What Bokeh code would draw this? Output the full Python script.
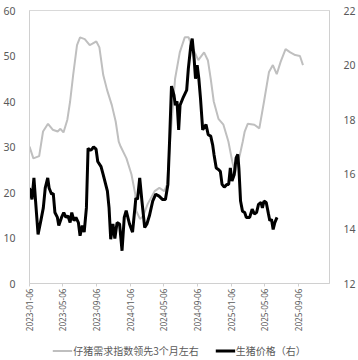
import math
import pandas as pd
from bokeh.plotting import figure
from bokeh.layouts import column
from bokeh.models import (ColumnDataSource, Range1d, LinearAxis, FixedTicker,
                          DatetimeTickFormatter, Legend, LegendItem)
from bokeh.embed import file_html
from bokeh.resources import INLINE

# ---- data ----
piglet_dates = [
    "2023-01-06", "2023-01-20", "2023-02-10", "2023-02-24", "2023-03-14", "2023-03-31",
    "2023-04-18", "2023-04-28", "2023-05-09", "2023-05-23", "2023-06-02", "2023-06-13",
    "2023-06-27", "2023-07-08", "2023-07-25", "2023-08-12", "2023-08-22", "2023-09-05",
    "2023-09-16", "2023-09-30", "2023-10-14", "2023-10-31", "2023-11-14", "2023-11-25",
    "2023-12-02", "2023-12-23", "2024-01-10", "2024-01-24", "2024-01-27", "2024-02-10",
    "2024-02-21", "2024-03-09", "2024-04-03", "2024-04-20", "2024-05-08", "2024-05-18",
    "2024-05-29", "2024-06-16", "2024-07-03", "2024-07-21", "2024-08-04", "2024-08-14",
    "2024-09-08", "2024-09-29", "2024-10-13", "2024-10-23", "2024-11-03", "2024-11-20",
    "2024-12-08", "2024-12-26", "2025-01-09", "2025-01-19", "2025-02-06", "2025-02-16",
    "2025-02-23", "2025-03-06", "2025-03-30", "2025-04-17", "2025-05-04", "2025-05-22",
    "2025-06-05", "2025-06-19", "2025-07-03", "2025-07-21", "2025-08-07", "2025-08-25",
    "2025-09-11", "2025-09-22",
]
piglet_index = [
    30.1, 27.5, 28.0, 33.4, 35.1, 33.8,
    33.4, 34.0, 33.2, 36.0, 40.0, 45.8,
    52.4, 54.1, 53.7, 52.4, 52.7, 53.2,
    51.9, 45.8, 42.5, 39.2, 35.6, 31.2,
    30.1, 27.5, 24.0, 19.6, 16.0, 14.2,
    14.8, 17.5, 20.3, 21.0, 20.3, 21.8,
    31.2, 45.0, 50.8, 54.1, 54.1, 52.4,
    49.1, 50.8, 49.0, 45.0, 40.0, 36.2,
    34.9, 31.2, 26.8, 24.2, 28.4, 31.2,
    33.4, 35.1, 34.9, 34.1, 40.0, 46.5,
    48.0, 46.0, 48.7, 51.5, 50.8, 50.2,
    50.0, 48.0,
]

hog_dates = [
    "2023-01-06", "2023-01-15", "2023-01-22", "2023-01-28", "2023-02-06", "2023-02-17",
    "2023-02-25", "2023-03-04", "2023-03-13", "2023-03-18", "2023-03-27", "2023-04-02",
    "2023-04-08", "2023-04-17", "2023-04-22", "2023-05-02", "2023-05-10", "2023-05-18",
    "2023-05-25", "2023-06-02", "2023-06-08", "2023-06-16", "2023-06-23", "2023-07-02",
    "2023-07-08", "2023-07-16", "2023-07-23", "2023-07-31", "2023-08-06", "2023-08-14",
    "2023-08-20", "2023-08-26", "2023-09-04", "2023-09-10", "2023-09-22", "2023-09-30",
    "2023-10-09", "2023-10-15", "2023-10-21", "2023-10-27", "2023-11-04", "2023-11-11",
    "2023-11-19", "2023-11-28", "2023-12-07", "2023-12-15", "2023-12-22", "2024-01-03",
    "2024-01-14", "2024-01-26", "2024-02-01", "2024-02-09", "2024-02-17", "2024-02-27",
    "2024-03-06", "2024-03-15", "2024-03-27", "2024-04-07", "2024-04-19", "2024-05-01",
    "2024-05-12", "2024-05-21", "2024-05-27", "2024-06-03", "2024-06-12", "2024-06-17",
    "2024-06-23", "2024-06-29", "2024-07-04", "2024-07-16", "2024-07-28", "2024-08-03",
    "2024-08-12", "2024-08-17", "2024-08-24", "2024-08-29", "2024-09-04", "2024-09-10",
    "2024-09-16", "2024-09-24", "2024-10-06", "2024-10-14", "2024-10-23", "2024-10-30",
    "2024-11-04", "2024-11-12", "2024-11-21", "2024-11-27", "2024-12-03", "2024-12-11",
    "2024-12-21", "2024-12-27", "2025-01-02", "2025-01-08", "2025-01-16", "2025-01-23",
    "2025-01-29", "2025-02-02", "2025-02-08", "2025-02-15", "2025-02-23", "2025-03-01",
    "2025-03-13", "2025-03-22", "2025-03-30", "2025-04-07", "2025-04-14", "2025-04-23",
    "2025-04-28", "2025-05-04", "2025-05-12", "2025-05-20", "2025-05-25", "2025-05-31",
    "2025-06-06", "2025-06-12", "2025-06-20",
]
hog_price = [
    15.50, 15.08, 15.87, 15.02, 13.80, 14.35,
    14.77, 15.50, 15.87, 15.50, 15.27, 15.30,
    14.60, 14.42, 14.12, 14.42, 14.60, 14.42,
    14.48, 14.23, 14.60, 14.30, 14.42, 14.23,
    13.75, 14.12, 13.88, 14.77, 16.95, 16.88,
    16.92, 17.00, 16.92, 16.47, 16.28, 15.98,
    15.62, 15.38, 14.77, 13.62, 14.18, 13.65,
    14.23, 14.18, 13.20, 14.42, 14.67, 14.18,
    13.88, 15.13, 15.08, 15.87, 15.02, 14.05,
    14.18, 14.48, 15.02, 15.27, 15.20, 15.08,
    15.08, 15.63, 17.20, 19.23, 18.90, 18.53,
    18.67, 17.63, 18.53, 18.83, 19.08, 19.87,
    20.72, 20.97, 20.23, 19.50, 20.00, 19.50,
    18.78, 17.63, 17.82, 17.45, 17.40, 17.08,
    16.72, 16.23, 16.17, 16.10, 15.63, 15.53,
    15.63, 15.63, 16.23, 15.75, 15.98, 16.60,
    16.73, 16.23, 15.02, 14.65, 14.60, 14.42,
    14.42, 14.72, 14.55, 14.60, 14.90, 14.97,
    14.77, 15.02, 14.97, 14.55, 14.30, 14.35,
    13.98, 14.23, 14.42,
]

tick_dates = ["2023-01-06", "2023-05-06", "2023-09-06", "2024-01-06", "2024-05-06",
              "2024-09-06", "2025-01-06", "2025-05-06", "2025-09-06"]
left_ticks = [0, 10, 20, 30, 40, 50, 60]
right_ticks = [12, 14, 16, 18, 20, 22]
series_names = ["仔猪需求指数领先3个月左右", "生猪价格（右）"]

gray = "#BFBFBF"
label_color = "#595959"
num_font = "Noto Sans"

# ---- main chart ----
src1 = ColumnDataSource(dict(x=pd.to_datetime(piglet_dates), y=piglet_index))
src2 = ColumnDataSource(dict(x=pd.to_datetime(hog_dates), y=hog_price))

x_start = pd.Timestamp("2023-01-06")
x_end = pd.Timestamp("2025-12-27")

p = figure(width=358, height=340, x_axis_type="datetime",
           x_range=Range1d(x_start, x_end), y_range=Range1d(0, 60),
           output_backend="svg", toolbar_location=None,
           min_border_left=23, min_border_right=26, min_border_top=10, min_border_bottom=57)
p.extra_y_ranges = {"right": Range1d(12, 22)}

p.xgrid.visible = False
p.ygrid.visible = False
p.outline_line_color = "#D9D9D9"
p.outline_line_width = 1
p.background_fill_color = "white"
p.border_fill_color = "white"

g1 = p.line("x", "y", source=src1, line_color=gray, line_width=2)
g2 = p.line("x", "y", source=src2, line_color="black", line_width=3, y_range_name="right")

ya = p.yaxis[0]
ya.ticker = FixedTicker(ticks=left_ticks)
ya.axis_line_color = "#D0D0D0"
ya.major_tick_line_color = None
ya.minor_tick_line_color = None
ya.major_label_text_color = label_color
ya.major_label_text_font = num_font
ya.major_label_text_font_size = "10.5px"
ya.major_label_standoff = 8

ra = LinearAxis(y_range_name="right", ticker=FixedTicker(ticks=right_ticks))
ra.axis_line_color = "#D0D0D0"
ra.major_tick_line_color = None
ra.minor_tick_line_color = None
ra.major_label_text_color = label_color
ra.major_label_text_font = num_font
ra.major_label_text_font_size = "10.5px"
ra.major_label_standoff = 8
p.add_layout(ra, "right")

xa = p.xaxis[0]
xa.ticker = FixedTicker(ticks=[pd.Timestamp(d).value // 10**6 for d in tick_dates])
fmt = "%Y-%m-%d"
xa.formatter = DatetimeTickFormatter(milliseconds=fmt, seconds=fmt, minsec=fmt, minutes=fmt,
                                     hourmin=fmt, hours=fmt, days=fmt, months=fmt, years=fmt)
xa.major_label_orientation = math.pi / 2
xa.axis_line_color = "#D0D0D0"
xa.major_tick_line_color = "#D0D0D0"
xa.major_tick_out = 3
xa.major_tick_in = 0
xa.minor_tick_line_color = None
xa.major_label_text_color = label_color
xa.major_label_text_font = num_font
xa.major_label_text_font_size = "8.2px"
xa.major_label_standoff = 2

# ---- legend strip (its own small figure below the chart) ----
lg = figure(width=358, height=20, output_backend="svg", toolbar_location=None,
            x_axis_location=None, y_axis_location=None,
            x_range=Range1d(0, 1), y_range=Range1d(0, 1),
            min_border=0, min_border_left=0, min_border_right=0,
            min_border_top=0, min_border_bottom=0)
lg.outline_line_color = None
lg.xgrid.visible = False
lg.ygrid.visible = False
# legend proxies: the same series styles, drawn outside this strip's visible range
r1 = lg.line(x=piglet_index[:2], y=piglet_index[:2], line_color=gray, line_width=2)
r2 = lg.line(x=hog_price[:2], y=hog_price[:2], line_color="black", line_width=3)

legend = Legend(items=[LegendItem(label=series_names[0], renderers=[r1]),
                       LegendItem(label=series_names[1], renderers=[r2])],
                orientation="horizontal", location="center")
legend.label_text_font = "Noto Sans CJK SC"
legend.label_text_font_size = "10px"
legend.label_text_color = label_color
legend.glyph_width = 20
legend.glyph_height = 10
legend.label_standoff = 1
legend.spacing = 16
legend.padding = 0
legend.margin = 0
legend.label_height = 12
legend.border_line_color = None
legend.background_fill_alpha = 0
lg.add_layout(legend)

layout = column(p, lg, spacing=0)
open("out.html", "w").write(file_html(layout, INLINE))
